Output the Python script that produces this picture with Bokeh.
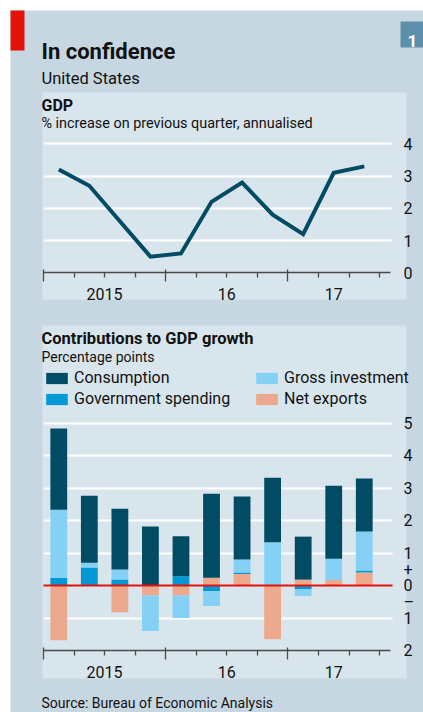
import numpy as np
from bokeh.plotting import figure
from bokeh.models import (Range1d, LinearAxis, FixedTicker, Grid, Label, Legend,
                          LegendItem, BoxAnnotation)
from bokeh.core.properties import value
from bokeh.embed import file_html
from bokeh.resources import INLINE

# ---------------- data ----------------
quarters = ["2015 Q1", "2015 Q2", "2015 Q3", "2015 Q4",
            "2016 Q1", "2016 Q2", "2016 Q3", "2016 Q4",
            "2017 Q1", "2017 Q2", "2017 Q3"]
gdp = [3.2, 2.7, 1.6, 0.5, 0.6, 2.2, 2.8, 1.8, 1.2, 3.1, 3.3]
consumption = [2.49, 2.06, 1.87, 1.82, 1.23, 2.58, 1.93, 1.98, 1.32, 2.24, 1.63]
investment = [2.09, 0.15, 0.31, -1.09, -0.69, -0.45, 0.40, 1.34, -0.20, 0.65, 1.20]
government = [0.25, 0.56, 0.19, 0.0, 0.29, -0.17, 0.05, 0.0, -0.11, 0.0, 0.06]
net_exports = [-1.67, 0.0, -0.81, -0.30, -0.30, 0.25, 0.36, -1.64, 0.19, 0.18, 0.41]
year_labels = ["2015", "16", "17"]
gdp_ticks = [0, 1, 2, 3, 4]
gdp_tick_labels = ["0", "1", "2", "3", "4"]
gdp_grid = [1, 2, 3, 4]
contrib_ticks = [5, 4, 3, 2, 1, 0.5, 0, -0.5, -1, -2]
contrib_tick_labels = ["5", "4", "3", "2", "1", "+", "0", "\u2013", "1", "2"]
contrib_grid = [5, 4, 3, 2, 1, -1]

# ---------------- style ----------------
FONT = "Roboto"
OUTER = "#c7d7e1"
INNER = "#d9e5ed"
RED = "#e3120b"
DARK = "#014c64"
MID = "#0099d6"
LIGHT = "#85d0f5"
SALMON = "#eca98e"
BOX = "#5b8fab"
TXT = "#111111"
AX = "#4a4a4a"

W, H = 423, 712
X0, QW = 43.0, 30.55            # px of first quarter boundary, px per quarter
GRID_END = (392 - X0) / QW
AXIS_END = (390 - X0) / QW
BAR_W = 0.55
Y0A, UA = 272.3, 32.25          # GDP chart: px of zero, px per point
Y0B, UB = 585.3, 32.55          # contributions chart

n = len(quarters)
xc = np.arange(n) + 0.5
years = [q.split()[0] for q in quarters]
uniq = list(dict.fromkeys(years))
year_pos = []
for y in uniq:
    idx = [i for i, yy in enumerate(years) if yy == y]
    year_pos.append((idx[0] + idx[-1] + 1) / 2.0)
major_q = [float(i) for i in range(n) if quarters[i].endswith("Q1")]
minor_q = [float(i) for i in range(1, n + 1) if float(i) not in major_q]

p = figure(width=W, height=H, output_backend="svg", toolbar_location=None, title=None,
           x_range=Range1d(0, W), y_range=Range1d(H, 0),
           x_axis_type=None, y_axis_type=None,
           background_fill_color="white", border_fill_color="white",
           outline_line_color=None, min_border=0)
p.extra_x_ranges = {"q": Range1d(-X0 / QW, (W - X0) / QW)}
p.extra_y_ranges = {"gdp": Range1d(-(H - Y0A) / UA, Y0A / UA),
                    "con": Range1d(-(H - Y0B) / UB, Y0B / UB)}


def box(l, r, t, b, color, level="image"):
    p.add_layout(BoxAnnotation(left=l, right=r, top=t, bottom=b, fill_color=color,
                               fill_alpha=1, line_color=None, level=level))


def label(x, y, text, size, bold=False, color=TXT, align="left"):
    p.add_layout(Label(x=x, y=y, text=text, text_font=FONT, text_font_size=size,
                       text_font_style="bold" if bold else "normal",
                       text_color=color, text_baseline="alphabetic",
                       text_align=align))


# panels
box(10, W, 10, H, OUTER)
box(42, 406, 92, 299, INNER)
box(42, 406, 325, 678, INNER)
box(10, 24, 10, 50, RED, "annotation")
box(400, W, 21, 47, BOX, "annotation")
label(412, 40, "1", "17px", bold=True, color="white", align="center")
label(41, 51, "In confidence", "22px", bold=True)
label(41, 78, "United States", "16.5px")
label(41, 105, "GDP", "16px", bold=True)
label(41, 123, "% increase on previous quarter, annualised", "14.4px")
label(41, 338, "Contributions to GDP growth", "16.5px", bold=True)
label(41, 356, "Percentage points", "14px")
label(41, 702, "Source: Bureau of Economic Analysis", "14px")


def axes(yname, base, yticks, ylabels, gticks):
    ta = LinearAxis(x_range_name="q", y_range_name=yname, fixed_location=base,
                    ticker=FixedTicker(ticks=major_q, minor_ticks=minor_q),
                    bounds=(0, AXIS_END),
                    axis_line_color=AX, axis_line_width=1.3,
                    major_tick_line_color=AX, major_tick_line_width=1.3,
                    minor_tick_line_color=AX, minor_tick_line_width=1.3,
                    major_tick_in=3, major_tick_out=9,
                    minor_tick_in=0, minor_tick_out=5,
                    major_label_overrides={t: "" for t in major_q})
    p.add_layout(ta, "below")
    ya = LinearAxis(x_range_name="q", y_range_name=yname, fixed_location=base,
                    ticker=FixedTicker(ticks=year_pos, minor_ticks=[]),
                    axis_line_color=None, major_tick_line_color=None,
                    minor_tick_line_color=None,
                    major_label_overrides=dict(zip(year_pos, year_labels)),
                    major_label_standoff=9,
                    major_label_text_font=FONT, major_label_text_font_size="16px",
                    major_label_text_color=TXT)
    p.add_layout(ya, "below")
    ra = LinearAxis(x_range_name="q", y_range_name=yname, fixed_location=GRID_END,
                    ticker=FixedTicker(ticks=yticks, minor_ticks=[]),
                    axis_line_color=None, major_tick_line_color=None,
                    minor_tick_line_color=None,
                    major_label_overrides=dict(zip(yticks, ylabels)),
                    major_label_standoff=5,
                    major_label_text_font=FONT, major_label_text_font_size="16px",
                    major_label_text_color=TXT)
    p.add_layout(ra, "right")
    g = Grid(dimension=1, x_range_name="q", y_range_name=yname,
             ticker=FixedTicker(ticks=gticks, minor_ticks=[]),
             grid_line_color="white", grid_line_width=1.8,
             cross_bounds=(0, GRID_END))
    p.add_layout(g)


# ---------------- GDP chart ----------------
axes("gdp", 0, gdp_ticks, gdp_tick_labels, gdp_grid)
p.line(xc, gdp, line_width=4, line_color=DARK, line_join="miter",
       x_range_name="q", y_range_name="gdp")

# ---------------- contributions chart ----------------
axes("con", -2, contrib_ticks, contrib_tick_labels, contrib_grid)
series = [("Net exports", net_exports, SALMON),
          ("Government spending", government, MID),
          ("Gross investment", investment, LIGHT),
          ("Consumption", consumption, DARK)]
pos = np.zeros(n)
neg = np.zeros(n)
rend = {}
for name, vals, col in series:
    v = np.array(vals, dtype=float)
    bottom = np.where(v >= 0, pos, neg + v)
    top = np.where(v >= 0, pos + v, neg)
    pos = pos + np.clip(v, 0, None)
    neg = neg + np.clip(v, None, 0)
    rend[name] = p.vbar(x=xc, width=BAR_W, bottom=bottom, top=top,
                        fill_color=col, line_color=None,
                        x_range_name="q", y_range_name="con")

zero = Grid(dimension=1, x_range_name="q", y_range_name="con",
            ticker=FixedTicker(ticks=[0], minor_ticks=[]),
            grid_line_color=RED, grid_line_width=2.2,
            cross_bounds=(0, GRID_END), level="overlay")
p.add_layout(zero)


def legend(names, xloc):
    lg = Legend(items=[LegendItem(label=value(nm), renderers=[rend[nm]]) for nm in names],
                location=(xloc, H - 408), orientation="vertical",
                glyph_width=27, glyph_height=14, label_standoff=4, spacing=2,
                padding=0, margin=0, border_line_color=None,
                background_fill_alpha=0, label_height=14,
                label_text_font=FONT, label_text_font_size="16px",
                label_text_color=TXT)
    p.add_layout(lg)


legend(["Consumption", "Government spending"], 43)
legend(["Gross investment", "Net exports"], 253)

open("out.html", "w").write(file_html(p, INLINE))
